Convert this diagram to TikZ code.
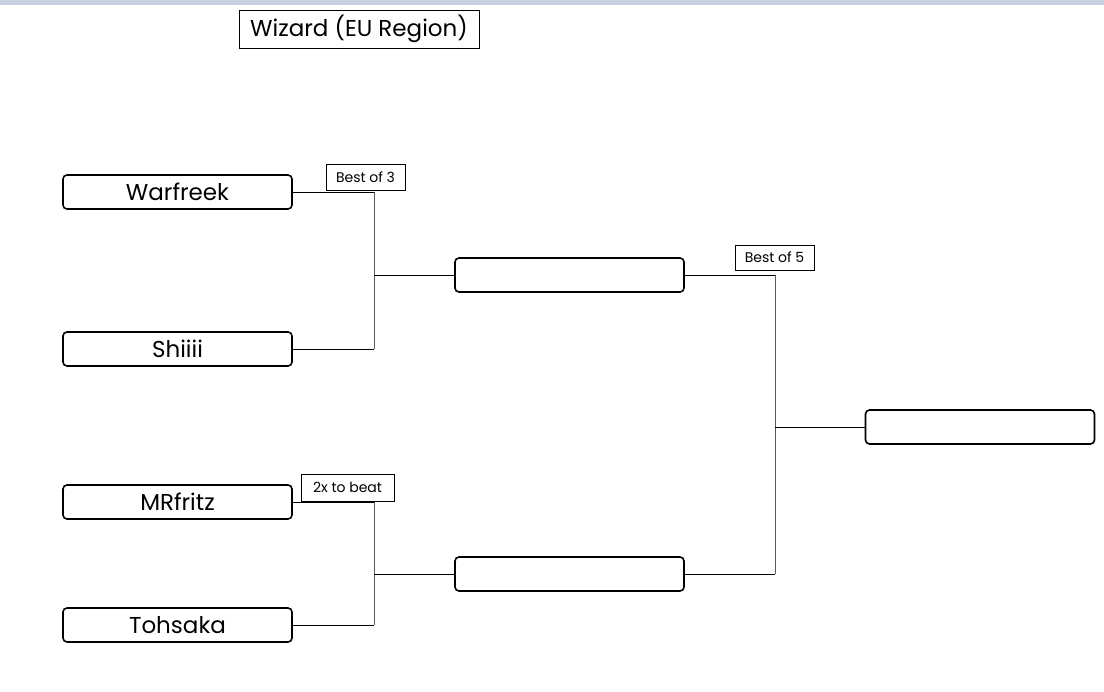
\documentclass[tikz,border=0pt]{standalone}
\usepackage{fontspec}
\setmainfont{Poppins}
\usepackage{tikz}
\usetikzlibrary{positioning}

\definecolor{topbar}{RGB}{200,209,224}
\definecolor{joinline}{RGB}{90,90,90}

\begin{document}
\begin{tikzpicture}[x=1pt, y=-1pt,
    player/.style={draw, line width=1.6pt, rounded corners=4pt, minimum width=229pt, minimum height=34pt, inner sep=0pt, font=\fontsize{23}{26}\selectfont},
    rule/.style={draw, line width=0.6pt, inner sep=0pt, font=\fontsize{14}{16}\selectfont},
    link/.style={line width=0.8pt},
    drop/.style={line width=0.8pt, joinline}]
    \useasboundingbox (0,0) rectangle (1104,692);
    \fill[topbar] (0,0) rectangle (1104,5);

    \node[draw, line width=0.7pt, minimum width=240pt, minimum height=38pt, inner sep=0pt, font=\fontsize{23}{26}\selectfont] (title) at (359,29) {Wizard (EU Region)};

    % first round
    \node[player] (warf) at (177.5,192) {Warfreek};
    \node[player] (shi) at (177.5,349) {Shiiii};
    \node[player] (mrf) at (177.5,502) {MRfritz};
    \node[player] (toh) at (177.5,625) {Tohsaka};

    % later rounds
    \node[player] (semia) at (569.5,275) {};
    \node[player] (semib) at (569.5,574) {};
    \node[player] (final) at (980,427) {};

    \coordinate (ja) at (374,275);
    \coordinate (jb) at (374,574);
    \coordinate (jc) at (775,427);

    \draw[link] (warf.east) -- (warf.east -| ja);
    \draw[link] (shi.east) -- (shi.east -| ja);
    \draw[drop] (warf.east -| ja) -- (shi.east -| ja);
    \draw[link] (ja) -- (semia);

    \draw[link] (mrf.east) -- (mrf.east -| jb);
    \draw[link] (toh.east) -- (toh.east -| jb);
    \draw[drop] (mrf.east -| jb) -- (toh.east -| jb);
    \draw[link] (jb) -- (semib);

    \draw[link] (semia.east) -- (semia.east -| jc);
    \draw[link] (semib.east) -- (semib.east -| jc);
    \draw[drop] (semia.east -| jc) -- (semib.east -| jc);
    \draw[link] (jc) -- (final);

    % match rules
    \node[rule, minimum width=79pt, minimum height=26pt] (bo3) at (365.5,177) {Best of 3};
    \node[rule, minimum width=93pt, minimum height=27pt] (twox) at (347.5,487.5) {2x to beat};
    \node[rule, minimum width=79pt, minimum height=25pt] (bo5) at (774.5,257.5) {Best of 5};
  \end{tikzpicture}
\end{document}
